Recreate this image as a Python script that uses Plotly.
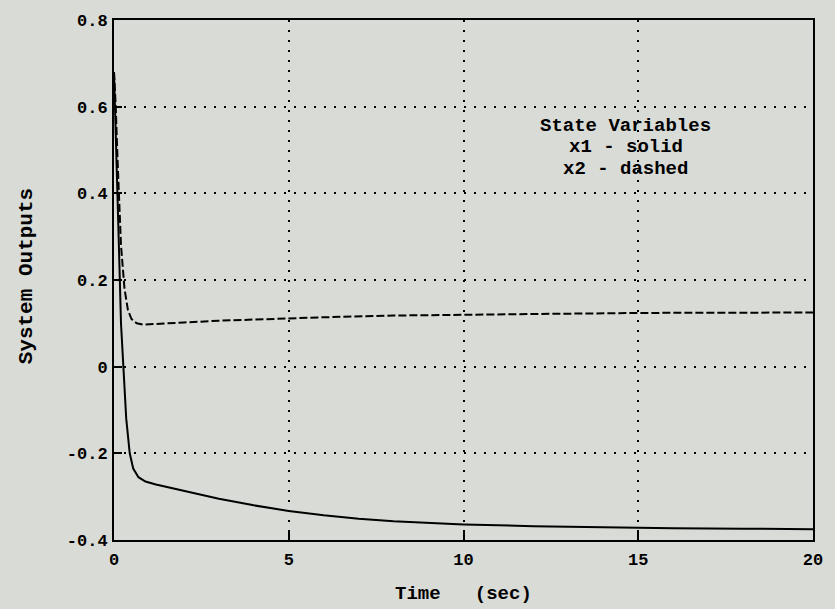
import plotly.graph_objects as go

t1 = [0, 0.05, 0.1, 0.15, 0.2, 0.26, 0.35, 0.45, 0.55, 0.7, 0.9, 1.2, 2, 3, 4, 5, 6, 7, 8, 10, 12, 14, 16, 18, 20]
x1 = [0.68, 0.55, 0.4, 0.25, 0.1, 0.0, -0.12, -0.2, -0.235, -0.255, -0.265, -0.272, -0.287, -0.305, -0.32,
      -0.333, -0.343, -0.351, -0.357, -0.364, -0.368, -0.371, -0.373, -0.374, -0.375]

t2 = [0, 0.05, 0.1, 0.15, 0.2, 0.3, 0.4, 0.5, 0.65, 0.85, 1.2, 2, 3, 4, 5, 6, 8, 10, 12, 15, 20]
x2 = [0.68, 0.6, 0.48, 0.38, 0.28, 0.18, 0.13, 0.11, 0.1, 0.097, 0.098, 0.102, 0.106, 0.109, 0.112,
      0.114, 0.118, 0.12, 0.122, 0.124, 0.125]

x_ticks = [0, 5, 10, 15, 20]
x_labels = ["0", "5", "10", "15", "20"]
y_ticks = [-0.4, -0.2, 0, 0.2, 0.4, 0.6, 0.8]
y_labels = ["-0.4", "-0.2", "0", "0.2", "0.4", "0.6", "0.8"]

legend_lines = ["State Variables", "x1 - solid", "x2 - dashed"]
legend_y = [0.556, 0.507, 0.457]

bg = "#d9dbd6"
mono = "Liberation Mono"

fig = go.Figure()
fig.add_trace(go.Scatter(x=t1, y=x1, mode="lines", line=dict(color="black", width=2), showlegend=False))
fig.add_trace(go.Scatter(x=t2, y=x2, mode="lines", line=dict(color="black", width=2, dash="8px,3px"), showlegend=False))

axis_common = dict(showline=True, linecolor="black", linewidth=2, mirror=True,
                   ticks="inside", ticklen=8, tickwidth=2, tickcolor="black",
                   showgrid=True, gridcolor="black", griddash="2px,8px", gridwidth=1.5,
                   zeroline=False,
                   tickfont=dict(family=mono, size=17, color="black", weight="bold"))

fig.update_xaxes(range=[0, 20], tickvals=x_ticks, ticktext=x_labels, ticklabelstandoff=3, **axis_common)
fig.update_yaxes(range=[-0.4, 0.8], tickvals=y_ticks, ticktext=y_labels, ticklabelstandoff=1, **axis_common)

for txt, yy in zip(legend_lines, legend_y):
    fig.add_annotation(x=14.64, y=yy, xref="x", yref="y", showarrow=False,
                       xanchor="center", yanchor="middle",
                       text=txt, font=dict(family=mono, size=19, color="black", weight="bold"))

fig.add_annotation(x=0.5, y=-0.103, xref="paper", yref="paper", showarrow=False,
                   xanchor="center", yanchor="middle",
                   text="Time   (sec)", font=dict(family=mono, size=19, color="black", weight="bold"))
fig.add_annotation(x=-0.126, y=0.507, xref="paper", yref="paper", showarrow=False, textangle=-90,
                   xanchor="center", yanchor="middle",
                   text="System Outputs", font=dict(family=mono, size=21, color="black", weight="bold"))

fig.update_layout(width=835, height=609, margin=dict(l=114, r=17, t=15, b=69),
                  paper_bgcolor=bg, plot_bgcolor=bg)
fig.write_html("out.html", config={"displayModeBar": False},
               post_script="document.body.style.margin='0px';document.body.style.background='%s';" % bg)
